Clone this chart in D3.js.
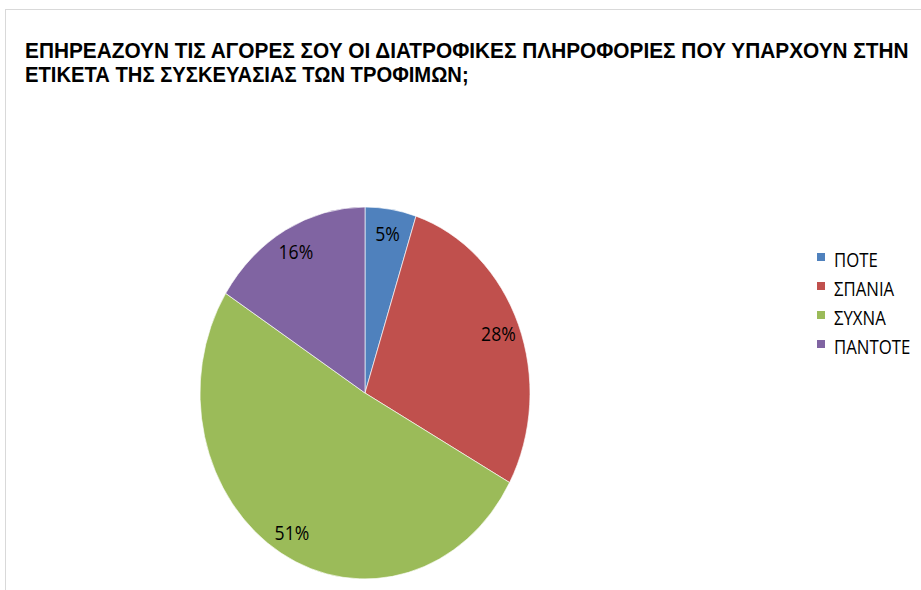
<!DOCTYPE html>
<html>
<head>
<meta charset="utf-8">
<script src="https://cdn.jsdelivr.net/npm/d3@7"></script>
<style>
  html, body { margin: 0; padding: 0; background: #fff; }
  svg { display: block; }
  text { font-family: "Open Sans", "Noto Sans", "DejaVu Sans", sans-serif; fill: #000; }
  .title { font-family: "Liberation Sans", Arial, sans-serif; font-weight: 700; }
</style>
</head>
<body>
<svg id="chart" width="921" height="590"></svg>
<script>
// Survey answers and their shares (percent)
const titleLines = [
  "ΕΠΗΡΕΑΖΟΥΝ ΤΙΣ ΑΓΟΡΕΣ ΣΟΥ ΟΙ ΔΙΑΤΡΟΦΙΚΕΣ ΠΛΗΡΟΦΟΡΙΕΣ ΠΟΥ ΥΠΑΡΧΟΥΝ ΣΤΗΝ",
  "ΕΤΙΚΕΤΑ ΤΗΣ ΣΥΣΚΕΥΑΣΙΑΣ ΤΩΝ ΤΡΟΦΙΜΩΝ;"
];
const categories = ["ΠΟΤΕ", "ΣΠΑΝΙΑ", "ΣΥΧΝΑ", "ΠΑΝΤΟΤΕ"];
const values = [5, 28, 51, 16];
const colors = ["#4F81BD", "#C0504D", "#9BBB59", "#8064A2"];

const svg = d3.select("#chart");

// chart area frame
svg.append("rect")
  .attr("x", 5.5).attr("y", 9.5)
  .attr("width", 940).attr("height", 600)
  .attr("fill", "#fff")
  .attr("stroke", "#d9d9d9").attr("stroke-width", 1);

// Title: bold, horizontally condensed
const titleG = svg.append("g");
const t1 = titleG.append("text")
  .attr("class", "title")
  .attr("font-size", 21.5)
  .text(titleLines[0]);
const natural = t1.node().getComputedTextLength();
const tx = (909 - 25) / natural;
t1.attr("transform", `translate(25,58) scale(${tx},1)`);
titleG.append("text")
  .attr("class", "title")
  .attr("font-size", 21.5)
  .attr("transform", `translate(25,82) scale(${tx * 0.97},1)`)
  .text(titleLines[1]);

// Pie, slightly taller than wide
const cx = 365, cy = 393, r = 165, sy = 1.127;
const sx = 0.86;   // horizontal condensation of the small labels
const pie = d3.pie().sort(null).value(d => d)(values);
const arc = d3.arc().innerRadius(0).outerRadius(r);
const labelArc = d3.arc().innerRadius(r * 0.87).outerRadius(r * 0.87);

const pieG = svg.append("g").attr("transform", `translate(${cx},${cy}) scale(1,${sy})`);
pieG.selectAll("path")
  .data(pie)
  .join("path")
  .attr("d", arc)
  .attr("fill", (d, i) => colors[i])
  .attr("stroke", "#fff")
  .attr("stroke-width", 0.6);

svg.append("g").selectAll("text")
  .data(pie)
  .join("text")
  .attr("font-size", 20.5)
  .attr("text-anchor", "middle")
  .attr("transform", d => {
    const [x, y] = labelArc.centroid(d);
    return `translate(${cx + x},${cy + y * sy + 7.5}) scale(${sx},1)`;
  })
  .text(d => d.data + "%");

// Legend
const legend = svg.append("g").attr("transform", "translate(817,253)");
const rows = legend.selectAll("g")
  .data(categories)
  .join("g")
  .attr("transform", (d, i) => `translate(0,${i * 29})`);
rows.append("rect")
  .attr("width", 8).attr("height", 8)
  .attr("y", 0)
  .attr("fill", (d, i) => colors[i]);
rows.append("text")
  .attr("font-size", 19.5)
  .attr("transform", `translate(17,14) scale(${sx},1)`)
  .text(d => d);
</script>
</body>
</html>
